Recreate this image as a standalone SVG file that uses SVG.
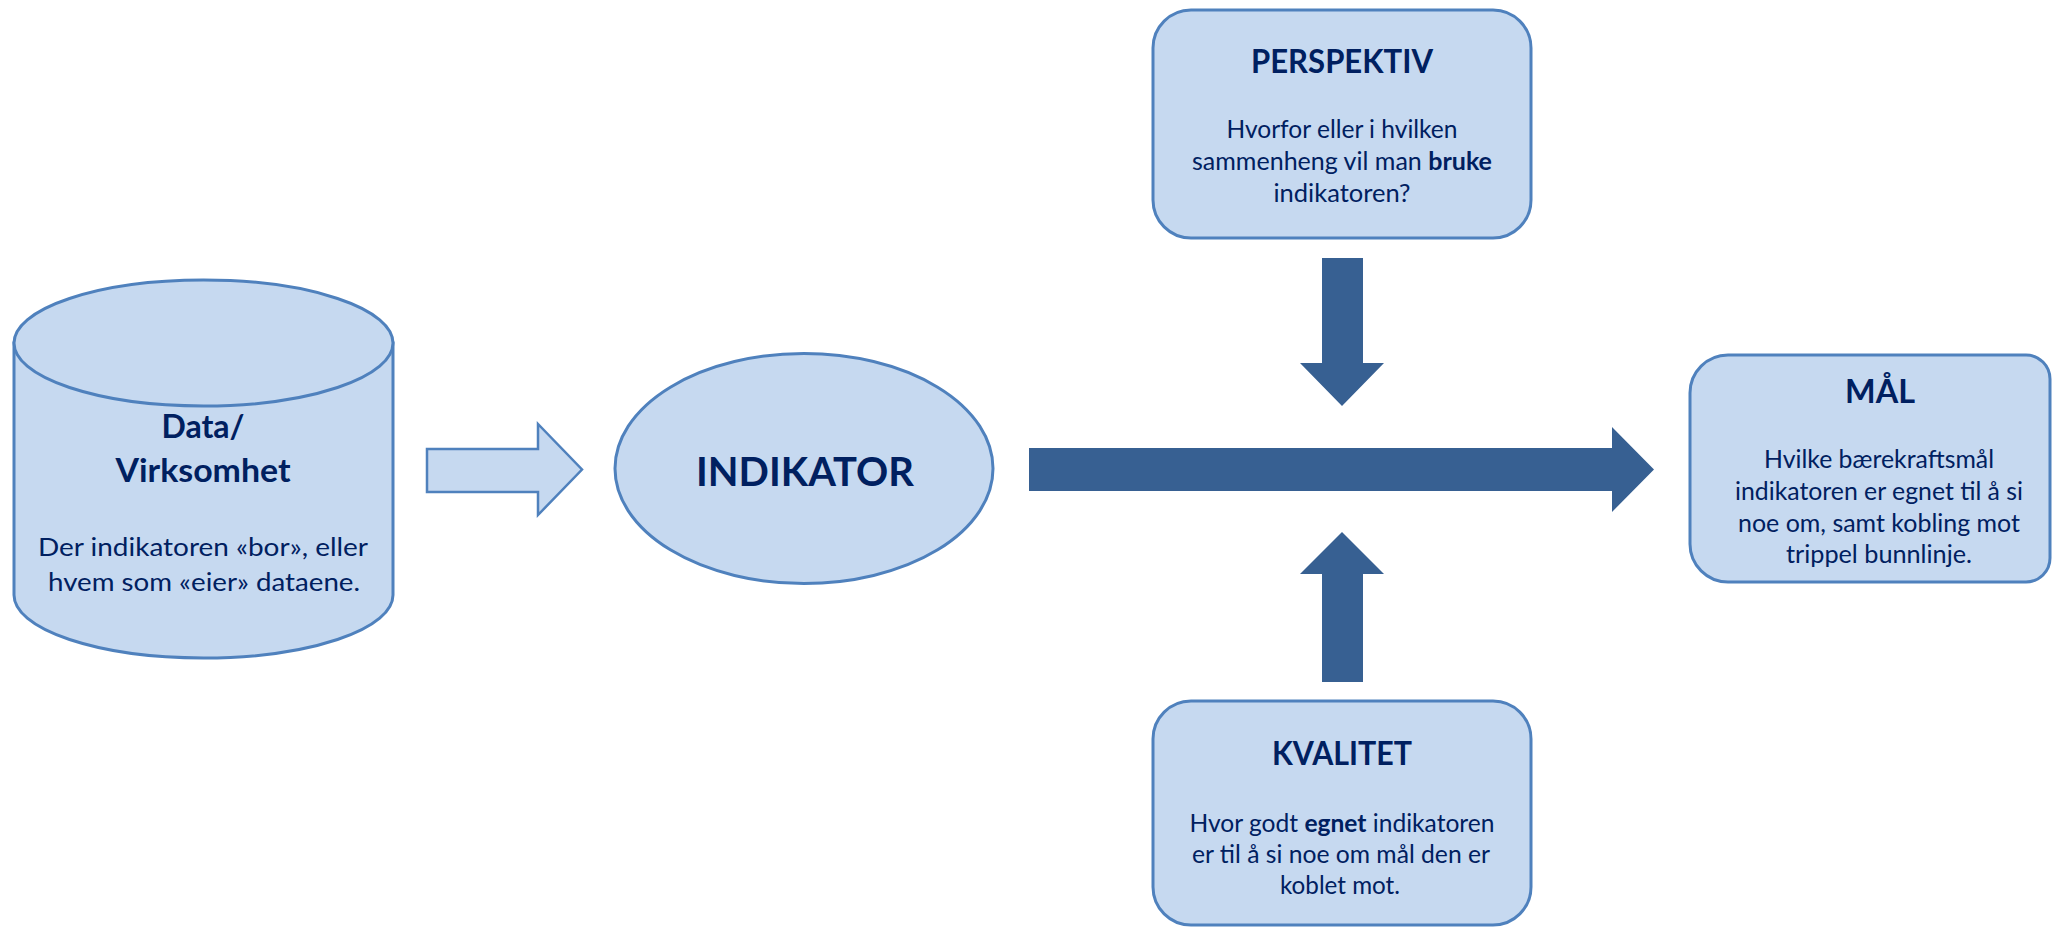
<svg xmlns="http://www.w3.org/2000/svg" width="2052" height="927" viewBox="0 0 2052 927">
<style>
.shape{fill:#C6D9F0;stroke:#4F81BD;stroke-width:3}
.solid{fill:#376092;stroke:none}
.hollow{fill:#C6D9F0;stroke:#4F81BD;stroke-width:2.5}
text{font-family:Lato,"Liberation Sans",sans-serif;fill:#002060;text-anchor:middle}
.title{font-weight:bold;font-size:32px}
.body{font-size:25.5px}
.big{font-weight:bold;font-size:41px}
.b{font-weight:bold}
</style>
<rect width="2052" height="927" fill="#FFFFFF"/>
<g id="connectors">
<polygon class="hollow" points="427,449 538,449 538,424 582,469.5 538,515 538,492 427,492"/>
<polygon class="solid" points="1029,448 1612,448 1612,427 1654,469.5 1612,512 1612,491 1029,491"/>
<polygon class="solid" points="1322,258 1363,258 1363,363 1384,363 1342,406 1300,363 1322,363"/>
<polygon class="solid" points="1342,532 1384,574 1363,574 1363,682 1322,682 1322,574 1300,574"/>
</g>
<g id="data">
<path class="shape" d="M14,343 V595 A189.5,63 0 0 0 393,595 V343 Z"/>
<ellipse class="shape" cx="203.5" cy="343" rx="189.5" ry="63"/>
<text class="title" x="203" y="438" textLength="83" lengthAdjust="spacingAndGlyphs">Data/</text>
<text class="title" x="203" y="482" textLength="175" lengthAdjust="spacingAndGlyphs">Virksomhet</text>
<text class="body" x="203" y="556" textLength="330" lengthAdjust="spacingAndGlyphs">Der indikatoren «bor», eller</text>
<text class="body" x="204" y="591" textLength="312" lengthAdjust="spacingAndGlyphs">hvem som «eier» dataene.</text>
</g>
<g id="indikator">
<ellipse class="shape" cx="804" cy="468.5" rx="189" ry="115"/>
<text class="big" x="805" y="486" textLength="218" lengthAdjust="spacingAndGlyphs">INDIKATOR</text>
</g>
<g id="perspektiv">
<rect class="shape" x="1153" y="10" width="378" height="228" rx="38" ry="38"/>
<text class="title" x="1342" y="73" textLength="182" lengthAdjust="spacingAndGlyphs">PERSPEKTIV</text>
<text class="body" x="1342" y="138" textLength="231" lengthAdjust="spacingAndGlyphs">Hvorfor eller i hvilken</text>
<text class="body" x="1342" y="170" textLength="300" lengthAdjust="spacingAndGlyphs">sammenheng vil man <tspan class="b">bruke</tspan></text>
<text class="body" x="1342" y="202" textLength="137" lengthAdjust="spacingAndGlyphs">indikatoren?</text>
</g>
<g id="kvalitet">
<rect class="shape" x="1153" y="701" width="378" height="224" rx="38" ry="38"/>
<text class="title" x="1342" y="765" textLength="140" lengthAdjust="spacingAndGlyphs">KVALITET</text>
<text class="body" x="1342" y="832" textLength="305" lengthAdjust="spacingAndGlyphs">Hvor godt <tspan class="b">egnet</tspan> indikatoren</text>
<text class="body" x="1341" y="863" textLength="298" lengthAdjust="spacingAndGlyphs">er til å si noe om mål den er</text>
<text class="body" x="1340" y="894" textLength="120" lengthAdjust="spacingAndGlyphs">koblet mot.</text>
</g>
<g id="maal">
<path class="shape" d="M1728,355 H2026 A24,24 0 0 1 2050,379 V558 A24,24 0 0 1 2026,582 H1728 A38,38 0 0 1 1690,544 V393 A38,38 0 0 1 1728,355 Z"/>
<text class="title" x="1880" y="403" textLength="70" lengthAdjust="spacingAndGlyphs">MÅL</text>
<text class="body" x="1879" y="468" textLength="230" lengthAdjust="spacingAndGlyphs">Hvilke bærekraftsmål</text>
<text class="body" x="1879" y="500" textLength="288" lengthAdjust="spacingAndGlyphs">indikatoren er egnet til å si</text>
<text class="body" x="1879" y="532" textLength="282" lengthAdjust="spacingAndGlyphs">noe om, samt kobling mot</text>
<text class="body" x="1879" y="563" textLength="186" lengthAdjust="spacingAndGlyphs">trippel bunnlinje.</text>
</g>
</svg>
